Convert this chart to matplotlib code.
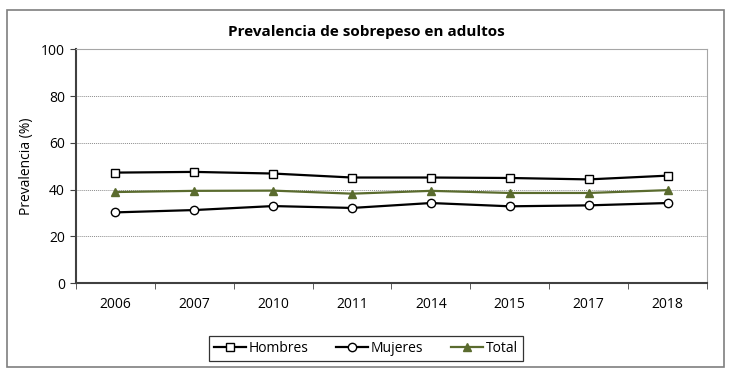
import matplotlib.pyplot as plt
from matplotlib.patches import Rectangle
import numpy as np

plt.rcParams["font.family"] = ["Open Sans", "DejaVu Sans"]

years = ["2006", "2007", "2010", "2011", "2014", "2015", "2017", "2018"]
hombres = [47.3, 47.6, 46.9, 45.2, 45.2, 45.0, 44.4, 46.0]
mujeres = [30.3, 31.3, 33.0, 32.2, 34.3, 32.9, 33.3, 34.3]
total = [39.0, 39.5, 39.6, 38.3, 39.5, 38.6, 38.6, 39.8]

fig = plt.figure(figsize=(7.34, 3.8), dpi=100)
ax = fig.add_axes([0.1035, 0.2545, 0.8597, 0.6158])

# outer chart frame
fig.patches.append(Rectangle((7 / 734, 1 - 367 / 380), 717 / 734, 357 / 380,
                             transform=fig.transFigure, fill=False,
                             edgecolor="#7f7f7f", linewidth=1.2))

x = np.arange(len(years))
ax.plot(x, hombres, color="black", linewidth=1.6, marker="s", markersize=6,
        markerfacecolor="white", markeredgecolor="black", markeredgewidth=1,
        label="Hombres", zorder=3)
ax.plot(x, mujeres, color="black", linewidth=1.6, marker="o", markersize=6,
        markerfacecolor="white", markeredgecolor="black", markeredgewidth=1,
        label="Mujeres", zorder=3)
ax.plot(x, total, color="#5a6b2e", linewidth=1.6, marker="^", markersize=6,
        markerfacecolor="#5a6b2e", markeredgecolor="#5a6b2e",
        label="Total", zorder=3)

ax.set_xlim(-0.5, len(years) - 0.5)
ax.set_ylim(0, 100)
ax.set_yticks(range(0, 101, 20))
ax.set_xticks(x)
ax.set_xticklabels(years, fontsize=10)
ax.tick_params(axis="x", length=0, pad=10)
ax.set_xticks(np.arange(-0.5, len(years)), minor=True)
ax.tick_params(axis="x", which="minor", length=4, color="#404040", direction="out")
ax.tick_params(axis="y", length=4, color="#404040", labelsize=10, pad=4)

for v in range(20, 100, 20):
    ax.axhline(v, color="#8c8c8c", linewidth=0.7, linestyle=(0, (1, 1)), zorder=1)

ax.spines["left"].set_color("#404040")
ax.spines["left"].set_linewidth(1.5)
ax.spines["bottom"].set_color("#404040")
ax.spines["bottom"].set_linewidth(1.5)
ax.spines["top"].set_color("#a6a6a6")
ax.spines["right"].set_color("#a6a6a6")

ax.set_ylabel("Prevalencia (%)", fontsize=10, labelpad=5)
fig.text(0.4986, 1 - 32 / 380, "Prevalencia de sobrepeso en adultos",
         ha="center", va="center", fontsize=11, fontweight="bold")

leg = fig.legend(loc="center", bbox_to_anchor=(0.4986, 1 - 348.5 / 380), ncol=3,
                 fontsize=10, frameon=True, fancybox=False, edgecolor="black",
                 handlelength=2.3, handletextpad=0.2, columnspacing=2.0,
                 borderpad=0.35, borderaxespad=0)
leg.get_frame().set_linewidth(0.9)

fig.savefig("out.png", dpi=100)
